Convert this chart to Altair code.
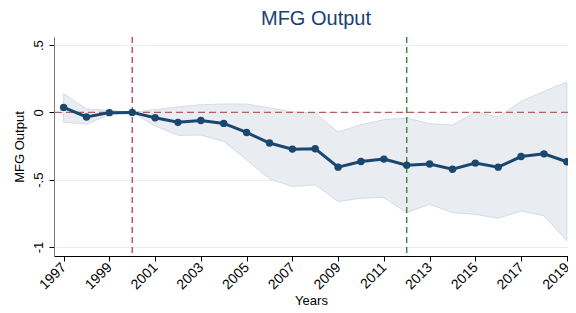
import altair as alt
import pandas as pd

years = list(range(1997, 2020))
coef = [0.037, -0.034, -0.002, 0.0, -0.04, -0.074, -0.06, -0.082, -0.149, -0.228, -0.273, -0.27,
        -0.407, -0.365, -0.347, -0.392, -0.384, -0.422, -0.377, -0.407, -0.328, -0.308, -0.367]
upper = [0.139, 0.025, 0.015, 0.0, 0.02, 0.04, 0.057, 0.062, 0.062, 0.033, 0.003, -0.005,
         -0.146, -0.092, -0.054, -0.042, -0.084, -0.094, 0.0, -0.034, 0.082, 0.156, 0.226]
lower = [-0.074, -0.086, -0.02, 0.0, -0.1, -0.17, -0.168, -0.216, -0.352, -0.494, -0.551, -0.538,
         -0.662, -0.638, -0.632, -0.745, -0.682, -0.745, -0.757, -0.787, -0.732, -0.769, -0.953]
x_ticks = [1997, 1999, 2001, 2003, 2005, 2007, 2009, 2011, 2013, 2015, 2017, 2019]
y_ticks = [0.5, 0, -0.5, -1]
vlines = [2000, 2012]
vline_colors = ["#c8385a", "#2e7d32"]

df = pd.DataFrame({"year": years, "coef": coef, "upper": upper, "lower": lower})
xdom = [1996.58, 2019.05]
ydom = [-1.067, 0.56]

xenc = alt.X("year:Q", scale=alt.Scale(domain=xdom, nice=False, zero=False),
             axis=alt.Axis(values=x_ticks, format="d", labelAngle=315, labelAlign="right",
                           labelBaseline="middle", title="Years",
                           grid=False, domainColor="#000000", tickColor="#000000",
                           labelColor="#000000", labelFontSize=14, titleFontSize=13,
                           titleFontWeight="normal", labelFont="Liberation Sans",
                           titleFont="Liberation Sans", tickSize=5, labelPadding=4,
                           titlePadding=3))
yscale = alt.Scale(domain=ydom, nice=False, zero=False)

band = alt.Chart(df).mark_area(color="#e9edf1", stroke="#d4dce5", strokeWidth=1).encode(
    x=xenc,
    y=alt.Y("upper:Q", scale=yscale,
            axis=alt.Axis(values=y_ticks, title="MFG Output", labelAngle=270,
                          labelExpr="datum.value == 0.5 ? '.5' : datum.value == 0 ? '0' : datum.value == -0.5 ? '-.5' : '-1'",
                          gridColor="#e6eeef", gridWidth=1, domainColor="#777777",
                          tickColor="#000000", labelColor="#000000", labelFontSize=13,
                          titleFontSize=13, titleFontWeight="normal", labelFont="Liberation Sans",
                          titleFont="Liberation Sans", tickSize=5, labelAlign="center",
                          labelBaseline="bottom", labelPadding=4, titlePadding=6)),
    y2="lower:Q",
)

hline = alt.Chart(pd.DataFrame({"y": [0]})).mark_rule(color="#b06060", strokeDash=[7, 4], strokeWidth=1.3).encode(
    y=alt.Y("y:Q", scale=yscale)
)

vdf = pd.DataFrame({"x": vlines, "c": vline_colors})
vrule = alt.Chart(vdf).mark_rule(strokeDash=[6, 4], strokeWidth=1.3).encode(
    x=alt.X("x:Q", scale=alt.Scale(domain=xdom, nice=False, zero=False)),
    color=alt.Color("c:N", scale=None),
)

line = alt.Chart(df).mark_line(color="#1a476f", strokeWidth=3).encode(
    x="year:Q", y=alt.Y("coef:Q", scale=yscale)
)
pts = alt.Chart(df).mark_point(filled=True, color="#1a476f", size=55, opacity=1).encode(
    x="year:Q", y=alt.Y("coef:Q", scale=yscale)
)

chart = alt.layer(band, hline, vrule, line, pts).properties(
    width=514, height=219,
    title=alt.Title("MFG Output", fontSize=20, font="Liberation Sans", fontWeight="normal",
                    color="#1a3f6f", anchor="middle", offset=7, dx=5),
    autosize=alt.AutoSizeParams(type="none"),
    padding={"left": 46, "top": 29, "right": 0, "bottom": 52},
).configure_view(stroke=None)

chart.save("out.html", embed_options={"renderer": "svg", "actions": False})
